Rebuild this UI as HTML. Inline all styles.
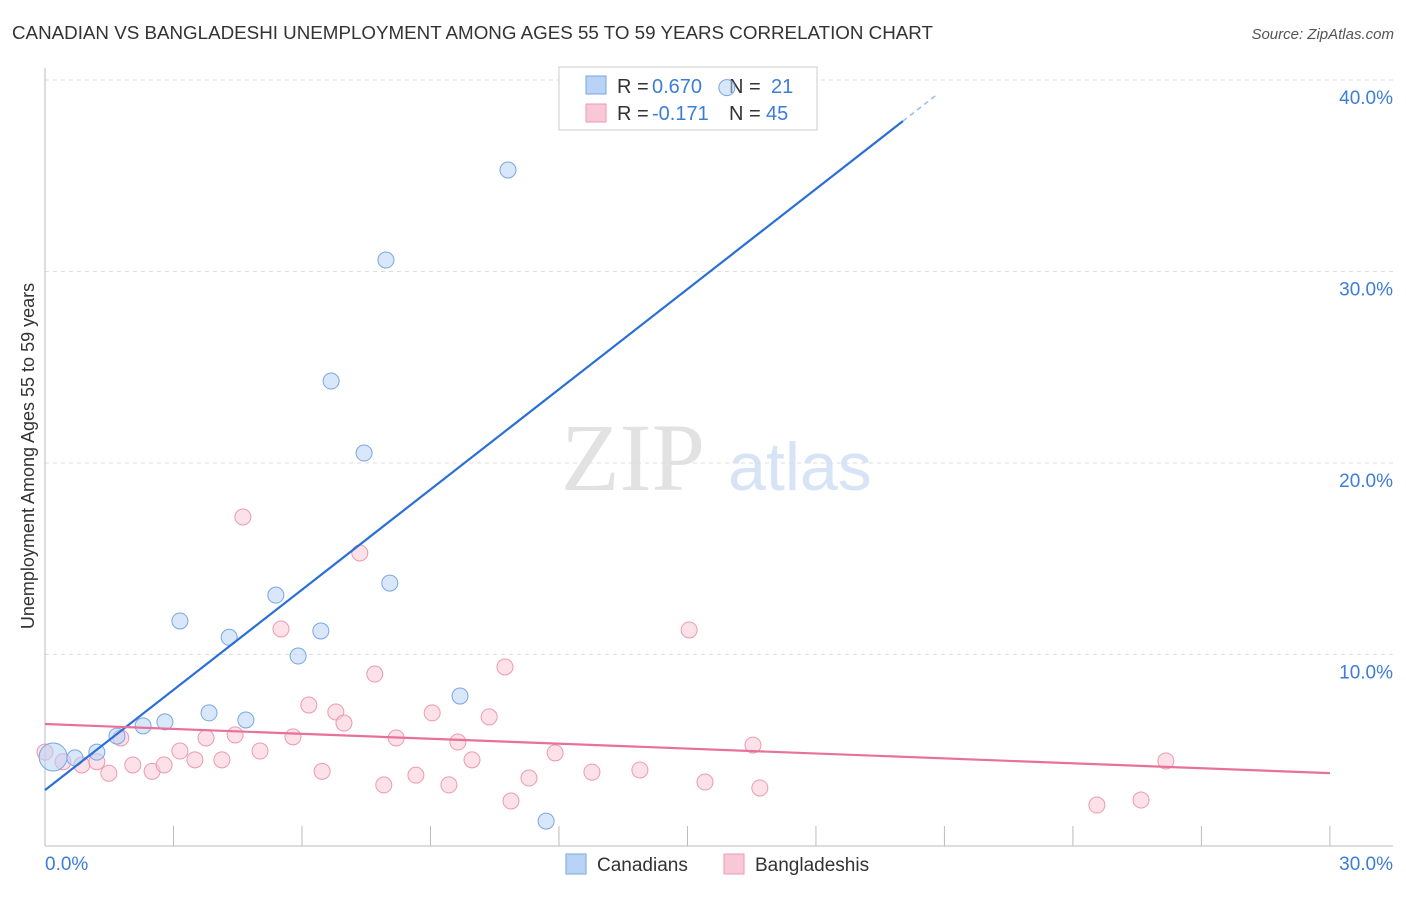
<!DOCTYPE html>
<html><head><meta charset="utf-8"><style>
body{margin:0;background:#fff;font-family:"Liberation Sans",sans-serif;}
</style></head><body>
<svg id="chart" width="1406" height="892" xmlns="http://www.w3.org/2000/svg" font-family="Liberation Sans, sans-serif">
<text x="12" y="39" font-size="18" fill="#333" textLength="921" lengthAdjust="spacingAndGlyphs">CANADIAN VS BANGLADESHI UNEMPLOYMENT AMONG AGES 55 TO 59 YEARS CORRELATION CHART</text>
<text x="1394" y="39" font-size="15" fill="#555" text-anchor="end" font-style="italic">Source: ZipAtlas.com</text>
<text x="633" y="490" font-size="96" fill="#e2e2e2" text-anchor="middle" font-family="Liberation Serif, serif">ZIP</text>
<text x="800" y="490" font-size="68" fill="#d7e4f5" text-anchor="middle">atlas</text>
<text transform="translate(34,456) rotate(-90)" font-size="18" fill="#333" text-anchor="middle">Unemployment Among Ages 55 to 59 years</text>
<g id="grid"></g>
<g>
<rect x="559" y="67" width="258" height="63" fill="#fff" stroke="#ccc"/>
<rect x="586" y="76" width="20" height="18" fill="#b8d3f5" stroke="#7aa6e0"/>
<rect x="586" y="104" width="20" height="18" fill="#f9c8d6" stroke="#eb9ab3"/>
<text x="617" y="93" font-size="20" fill="#333">R =</text>
<text x="652" y="93" font-size="20" fill="#3d7dd8">0.670</text>
<text x="729" y="93" font-size="20" fill="#333">N =</text>
<text x="771" y="93" font-size="20" fill="#3d7dd8">21</text>
<text x="617" y="120" font-size="20" fill="#333">R =</text>
<text x="652" y="120" font-size="20" fill="#3d7dd8">-0.171</text>
<text x="729" y="120" font-size="20" fill="#333">N =</text>
<text x="766" y="120" font-size="20" fill="#3d7dd8">45</text>
</g>
<g id="marks"></g>
<g>
<rect x="566" y="854" width="20" height="20" fill="#b8d3f5" stroke="#7aa6e0"/>
<text x="597" y="871" font-size="19" fill="#333">Canadians</text>
<rect x="724" y="854" width="20" height="20" fill="#f9c8d6" stroke="#eb9ab3"/>
<text x="755" y="871" font-size="19" fill="#333">Bangladeshis</text>
</g>
</svg>
<script>
const xTicks=[0,3,6,9,12,15,18,21,24,27,30];
const yTicks=[10,20,30,40];
const canX=[0.19,0.7,1.21,1.68,2.29,2.8,3.15,3.83,4.3,4.69,5.39,5.91,6.44,6.68,7.45,7.96,8.05,9.69,10.81,11.7,15.92];
const canY=[4.65,4.6,4.9,5.74,6.27,6.48,11.75,6.95,10.9,6.58,13.1,9.92,11.23,24.28,20.52,30.6,13.73,7.83,35.3,1.3,39.6];
const banX=[0,0.42,0.86,1.21,1.49,1.77,2.05,2.5,2.78,3.15,3.5,3.76,4.13,4.44,4.62,5.02,5.51,5.79,6.16,6.47,6.79,6.98,7.35,7.7,7.91,8.2,8.66,9.04,9.43,9.64,9.97,10.37,10.74,10.88,11.3,11.91,12.77,13.89,15.04,15.41,16.53,16.69,24.56,25.59,26.17];
const banY=[4.9,4.4,4.23,4.4,3.8,5.64,4.23,3.9,4.23,4.96,4.5,5.64,4.5,5.8,17.18,4.96,11.33,5.7,7.36,3.9,7.0,6.42,15.3,8.98,3.19,5.64,3.7,6.95,3.19,5.43,4.5,6.74,9.35,2.35,3.55,4.86,3.86,3.97,11.28,3.34,5.27,3.03,2.14,2.4,4.44];
const canLine=[2.92,1.744];
const banLine=[6.37,-0.0855];
const X=v=>45+v*42.83, Y=v=>846-v*19.15;
const NS="http://www.w3.org/2000/svg";
function mk(t,a,p){const e=document.createElementNS(NS,t);for(const k in a)e.setAttribute(k,a[k]);p.appendChild(e);return e;}
const g=document.getElementById('grid'), m=document.getElementById('marks');
yTicks.forEach(v=>{const l=mk('line',{x1:45,x2:1393,y1:Y(v),y2:Y(v),stroke:'#ddd','stroke-dasharray':'4,4'},g);


const t=mk('text',{x:1393,y:Y(v)+24,'font-size':19,fill:'#3d7dd8','text-anchor':'end'},g);t.textContent=v.toFixed(1)+'%';

});
const ax=mk('line',{x1:45,x2:1393,y1:846,y2:846,stroke:'#bbb'},g);


const ay=mk('line',{x1:45,x2:45,y1:68,y2:846,stroke:'#bbb'},g);


xTicks.forEach(v=>{const l=mk('line',{x1:X(v),x2:X(v),y1:826,y2:846,stroke:'#bbb'},g);

});
[[0,'start'],[30,'end']].forEach(([v,a])=>{const t=mk('text',{x:a=='start'?45:1393,y:870,'font-size':19,fill:'#3d7dd8','text-anchor':a},g);t.textContent=v.toFixed(1)+'%';

});
banX.forEach((x,i)=>{const c=mk('circle',{cx:X(x),cy:Y(banY[i]),r:8,fill:'rgba(249,200,214,0.55)',stroke:'#eb9ab3','stroke-width':1},m);

});
canX.forEach((x,i)=>{const c=mk('circle',{cx:X(x),cy:Y(canY[i]),r:i==0?14:8,fill:'rgba(184,211,245,0.55)',stroke:'#7aa6e0','stroke-width':1},m);

});
const cl=mk('line',{x1:X(0),y1:Y(canLine[0]),x2:X(20.03),y2:Y(canLine[0]+canLine[1]*20.03),stroke:'#2a6fd6','stroke-width':2.2},m);


const cd=mk('line',{x1:X(20.03),y1:Y(canLine[0]+canLine[1]*20.03),x2:X(20.8),y2:Y(canLine[0]+canLine[1]*20.8),stroke:'#9bbbe8','stroke-width':1.5,'stroke-dasharray':'5,4'},m);


const bl=mk('line',{x1:X(0),y1:Y(banLine[0]),x2:X(30),y2:Y(banLine[0]+banLine[1]*30),stroke:'#e8719a','stroke-width':2.2},m);


</script>
</body></html>
